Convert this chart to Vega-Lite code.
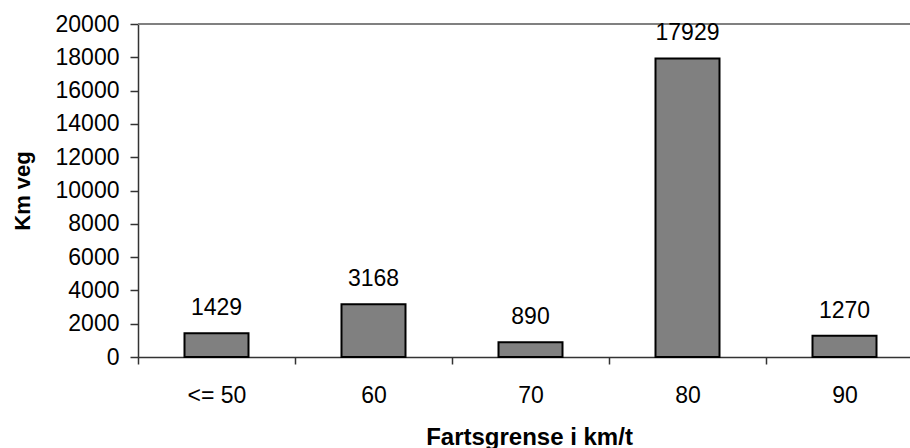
{
  "$schema": "https://vega.github.io/schema/vega-lite/v6.json",
  "autosize": {"type": "none"},
  "padding": {"left": 138, "top": 24, "right": 0, "bottom": 91},
  "width": 772,
  "height": 333,
  "background": "white",
  "config": {
    "view": {"stroke": null},
    "font": "Liberation Sans"
  },
  "data": {
    "values": [
      {"fart": "<= 50", "km": 1429},
      {"fart": "60", "km": 3168},
      {"fart": "70", "km": 890},
      {"fart": "80", "km": 17929},
      {"fart": "90", "km": 1270}
    ]
  },
  "encoding": {
    "x": {
      "field": "fart",
      "type": "ordinal",
      "sort": null,
      "scale": {"paddingInner": 0, "paddingOuter": 0, "range": [0, 785]},
      "axis": {
        "title": "Fartsgrense i km/t",
        "titleFont": "Liberation Sans",
        "titleFontSize": 24,
        "titleFontWeight": "bold",
        "titleColor": "black",
        "titleBaseline": "alphabetic",
        "titleY": 87,
        "titleX": 391,
        "labelAngle": 0,
        "labelFont": "Liberation Sans",
        "labelFontSize": 23,
        "labelColor": "black",
        "labelBaseline": "alphabetic",
        "labelPadding": 38,
        "tickBand": "extent",
        "tickSize": 7,
        "tickColor": "#333333",
        "domainColor": "#333333",
        "domainWidth": 1.5,
        "tickWidth": 1.5
      }
    },
    "y": {
      "field": "km",
      "type": "quantitative",
      "scale": {"domain": [0, 20000], "nice": false},
      "axis": {
        "title": "Km veg",
        "titleFont": "Liberation Sans",
        "titleFontSize": 22,
        "titleFontWeight": "bold",
        "titleColor": "black",
        "titleBaseline": "alphabetic",
        "titleX": -109,
        "values": [0, 2000, 4000, 6000, 8000, 10000, 12000, 14000, 16000, 18000, 20000],
        "format": "d",
        "grid": false,
        "labelFont": "Liberation Sans",
        "labelFontSize": 23,
        "labelColor": "black",
        "labelPadding": 11,
        "tickSize": 8,
        "tickColor": "#333333",
        "domainColor": "#333333",
        "domainWidth": 1.5,
        "tickWidth": 1.5
      }
    }
  },
  "layer": [
    {
      "mark": {"type": "rule", "color": "#808080", "strokeWidth": 2},
      "encoding": {"y": {"datum": 20000}, "x": null}
    },
    {
      "mark": {"type": "bar", "width": 64, "fill": "#808080", "stroke": "black", "strokeWidth": 2}
    },
    {
      "mark": {"type": "text", "baseline": "alphabetic", "dy": -18, "fontSize": 23, "font": "Liberation Sans", "color": "black"},
      "encoding": {"text": {"field": "km", "type": "quantitative", "format": "d"}}
    }
  ]
}
